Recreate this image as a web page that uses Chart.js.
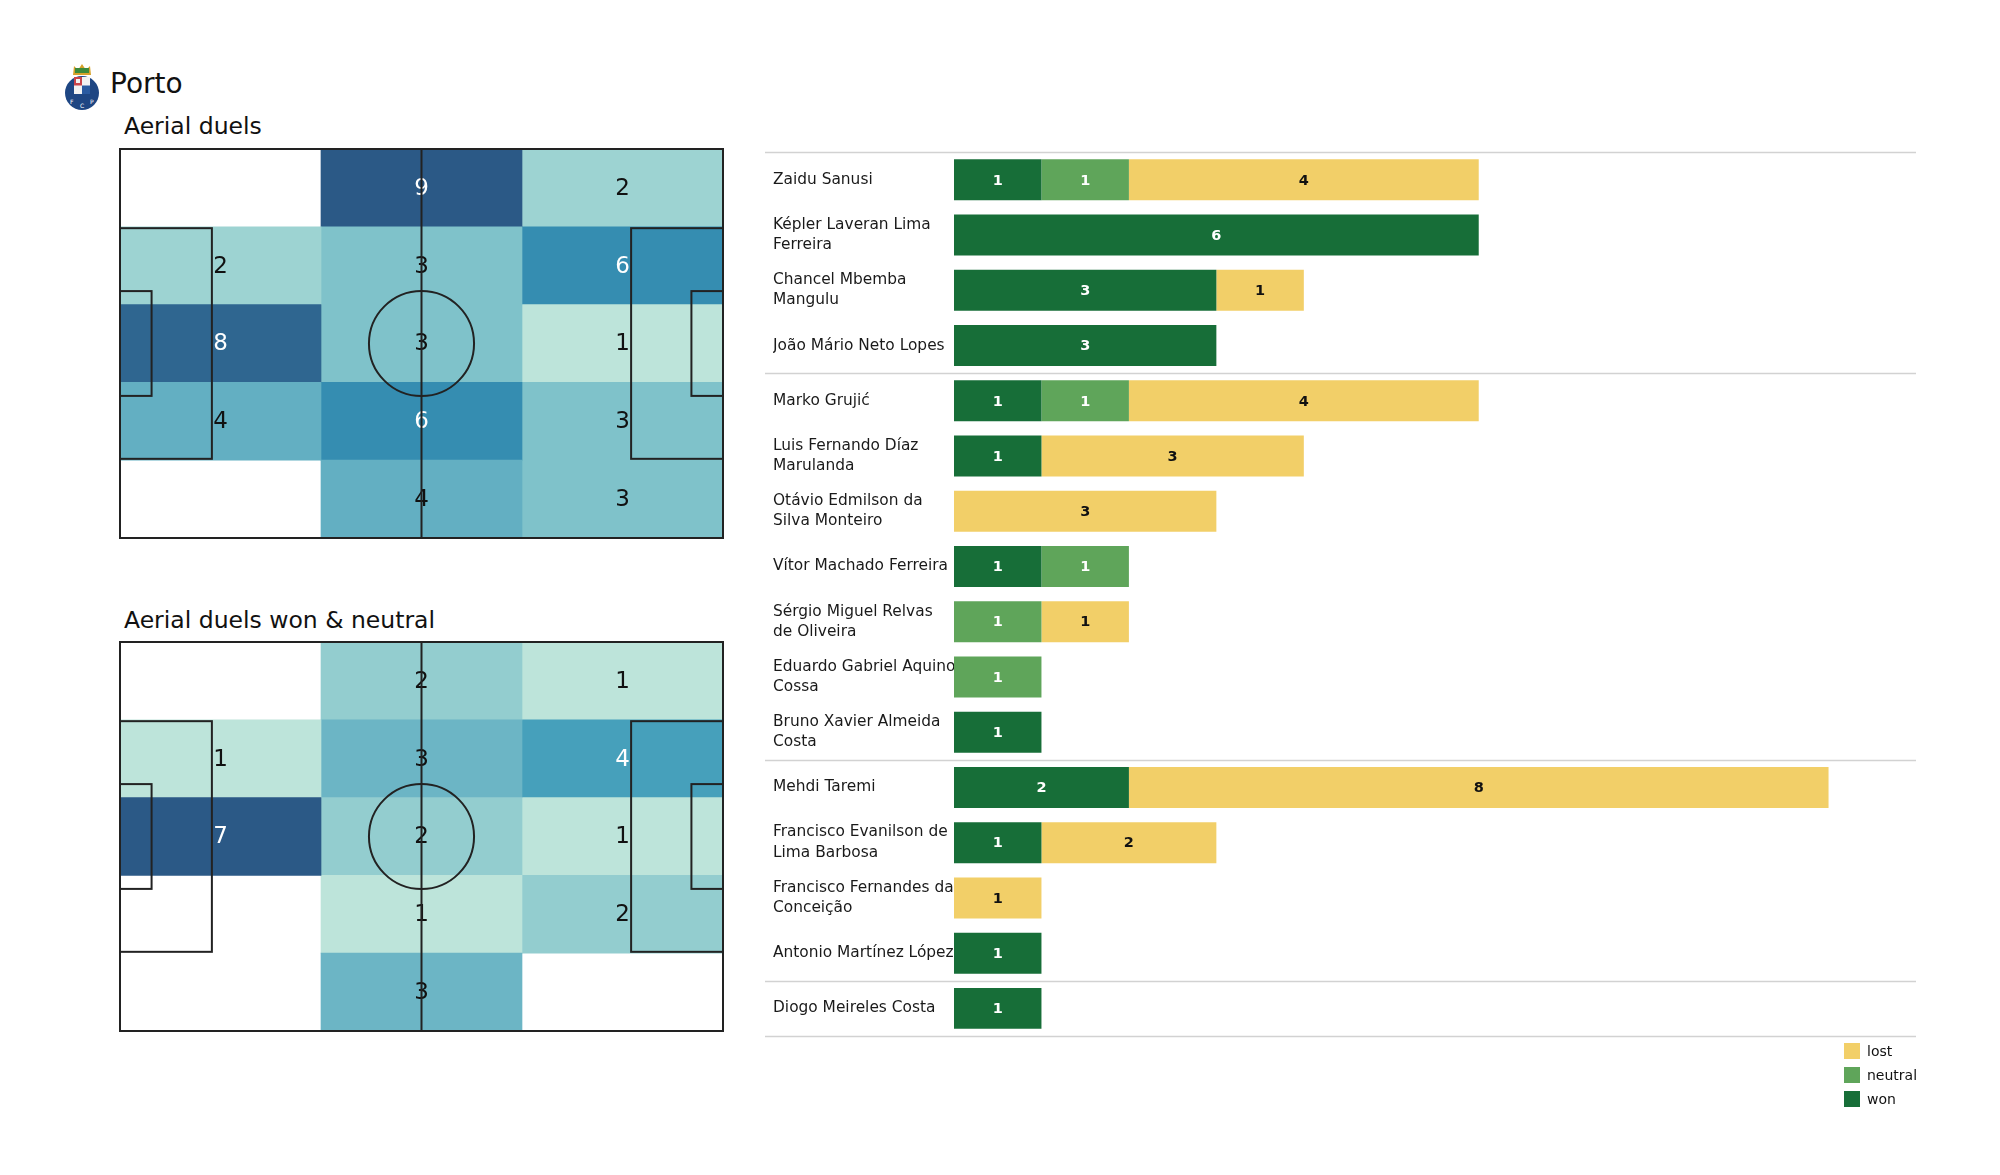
<!DOCTYPE html>
<html>
<head>
<meta charset="utf-8">
<script src="https://cdn.jsdelivr.net/npm/chart.js@4.4.1/dist/chart.umd.min.js"></script>
<style>
  body { margin:0; background:#fff; font-family:'DejaVu Sans', sans-serif; color:#111; }
  #page { position:relative; width:2000px; height:1175px; overflow:hidden; }
  .txt { position:absolute; white-space:nowrap; line-height:1; }
  canvas { position:absolute; }
  .lg { position:absolute; left:1844px; font-size:14px; display:flex; align-items:center; }
  .lg span.sw { width:16px; height:16px; display:inline-block; margin-right:7px; }
</style>
</head>
<body>
<div id="page">
  <svg style="position:absolute;left:62px;top:62px" width="40" height="48" viewBox="0 0 40 48">
    <path d="M11 13 L12 4 L16 8 L20 2 L24 8 L28 4 L29 13 Z" fill="#d6a22a"/>
    <rect x="13" y="6" width="14" height="5" fill="#3d8a3a"/>
    <circle cx="20" cy="31" r="17" fill="#1e4683"/>
    <rect x="12" y="15" width="16" height="17" fill="#f2f2f2"/>
    <rect x="12" y="15" width="8" height="8.5" fill="#c9444a"/>
    <rect x="20" y="23.5" width="8" height="8.5" fill="#2a5aa0"/>
    <rect x="14" y="17" width="4" height="4" fill="#f2f2f2"/>
    <text x="8" y="42" font-size="6" fill="#fff" font-family="DejaVu Sans">F</text>
    <text x="18" y="46" font-size="6" fill="#fff" font-family="DejaVu Sans">C</text>
    <text x="28" y="42" font-size="6" fill="#fff" font-family="DejaVu Sans">P</text>
  </svg>
  <div class="txt" style="left:110px;top:70px;font-size:28px">Porto</div>
  <div class="txt" style="left:124px;top:115px;font-size:23.5px">Aerial duels</div>
  <div class="txt" style="left:124px;top:609px;font-size:23.5px">Aerial duels won &amp; neutral</div>
  <canvas id="heatAll" width="611" height="397" style="left:116px;top:145px"></canvas>
  <canvas id="heatWon" width="611" height="397" style="left:116px;top:638px"></canvas>
  <canvas id="bars" width="1163" height="910" style="left:757px;top:142px"></canvas>
</div>
<script>
// pitch zones: 5 rows (top to bottom) x 3 columns (left to right)
const zoneRows = ['r1', 'r2', 'r3', 'r4', 'r5'];
const aerialDuels = [
  [0, 9, 2],
  [2, 3, 6],
  [8, 3, 1],
  [4, 6, 3],
  [0, 4, 3]
];
const aerialWonNeutral = [
  [0, 2, 1],
  [1, 3, 4],
  [7, 2, 1],
  [0, 1, 2],
  [0, 3, 0]
];

// players, by group (defenders, midfielders, forwards, keeper)
const players = [
  'Zaidu Sanusi',
  ['Képler Laveran Lima', 'Ferreira'],
  ['Chancel Mbemba', 'Mangulu'],
  'João Mário Neto Lopes',
  'Marko Grujić',
  ['Luis Fernando Díaz', 'Marulanda'],
  ['Otávio Edmilson da', 'Silva Monteiro'],
  'Vítor Machado Ferreira',
  ['Sérgio Miguel Relvas', 'de Oliveira'],
  ['Eduardo Gabriel Aquino', 'Cossa'],
  ['Bruno Xavier Almeida', 'Costa'],
  'Mehdi Taremi',
  ['Francisco Evanilson de', 'Lima Barbosa'],
  ['Francisco Fernandes da', 'Conceição'],
  'Antonio Martínez López',
  'Diogo Meireles Costa'
];
const groupSizes = [4, 7, 4, 1];
const won     = [1, 6, 3, 3, 1, 1, 0, 1, 0, 0, 1, 2, 1, 0, 1, 1];
const neutral = [1, 0, 0, 0, 1, 0, 0, 1, 1, 1, 0, 0, 0, 0, 0, 0];
const lost    = [4, 0, 1, 0, 4, 3, 3, 0, 1, 0, 0, 8, 2, 1, 0, 0];
const seriesNames = ['won', 'neutral', 'lost'];
const seriesColors = ['#176e38', '#5fa55a', '#f2cf68'];

const FONT = "'DejaVu Sans', sans-serif";
const PITCH_L = 105, PITCH_W = 68;
const colEdges = [0, 35, 70, 105];

// colour ramp (light mint -> dark blue)
const ramp = [
  [0, [189, 228, 218]], [0.125, [157, 211, 210]], [0.25, [127, 194, 202]],
  [0.375, [99, 175, 194]], [0.5, [70, 160, 187]], [0.625, [53, 141, 177]],
  [0.875, [47, 102, 144]], [1, [43, 89, 134]]
];
function rampT(v, maxV) { return maxV > 1 ? (v - 1) / (maxV - 1) : 1; }
function heatColor(v, maxV) {
  if (!v) return 'rgba(255,255,255,0)';
  const t = rampT(v, maxV);
  for (let i = 1; i < ramp.length; i++) {
    if (t <= ramp[i][0]) {
      const a = ramp[i-1], b = ramp[i];
      const f = (t - a[0]) / (b[0] - a[0]);
      const c = a[1].map((k, j) => Math.round(k + (b[1][j] - k) * f));
      return `rgb(${c[0]},${c[1]},${c[2]})`;
    }
  }
  return 'rgb(43,89,134)';
}

const cellLabels = {
  id: 'cellLabels',
  afterDatasetsDraw(chart) {
    const ctx = chart.ctx;
    const maxV = chart.options.plugins.cellLabels.maxV;
    ctx.save();
    ctx.font = `23px ${FONT}`;
    ctx.textAlign = 'center';
    ctx.textBaseline = 'middle';
    chart.data.datasets.forEach((ds, i) => {
      chart.getDatasetMeta(i).data.forEach((el, j) => {
        const v = ds.data[j].v;
        if (!v) return;
        const p = el.getCenterPoint();
        ctx.fillStyle = rampT(v, maxV) >= 0.5 ? '#ffffff' : '#111111';
        ctx.fillText(String(v), p.x, p.y + 1);
      });
    });
    ctx.restore();
  }
};

const pitchLines = {
  id: 'pitchLines',
  afterDraw(chart) {
    const ctx = chart.ctx, xs = chart.scales.x, ys = chart.scales.py;
    const px = v => xs.getPixelForValue(v), py = v => ys.getPixelForValue(v);
    const rect = (x0, y0, x1, y1) => ctx.strokeRect(px(x0), py(y1), px(x1) - px(x0), py(y0) - py(y1));
    ctx.save();
    ctx.strokeStyle = '#222';
    ctx.lineWidth = 2;
    rect(0, 0, PITCH_L, PITCH_W);
    ctx.beginPath();
    ctx.moveTo(px(PITCH_L / 2), py(0));
    ctx.lineTo(px(PITCH_L / 2), py(PITCH_W));
    ctx.stroke();
    ctx.beginPath();
    ctx.arc(px(PITCH_L / 2), py(PITCH_W / 2), px(9.15) - px(0), 0, Math.PI * 2);
    ctx.stroke();
    const pbY = (PITCH_W - 40.32) / 2, gaY = (PITCH_W - 18.32) / 2;
    rect(0, pbY, 16, PITCH_W - pbY);
    rect(PITCH_L - 16, pbY, PITCH_L, PITCH_W - pbY);
    rect(0, gaY, 5.5, PITCH_W - gaY);
    rect(PITCH_L - 5.5, gaY, PITCH_L, PITCH_W - gaY);
    ctx.restore();
  }
};

function makeHeatmap(id, counts) {
  const maxV = Math.max(...counts.flat());
  const datasets = [0, 1, 2].map(c => ({
    data: counts.map((row, r) => ({ y: zoneRows[r], x: [colEdges[c], colEdges[c + 1]], v: row[c] })),
    backgroundColor: counts.map(row => heatColor(row[c], maxV)),
    borderWidth: 0,
    grouped: false,
    categoryPercentage: 1,
    barPercentage: 1,
    xAxisID: 'x',
    yAxisID: 'y'
  }));
  new Chart(document.getElementById(id), {
    type: 'bar',
    data: { labels: zoneRows, datasets },
    options: {
      indexAxis: 'y',
      responsive: false,
      animation: false,
      layout: { padding: 4 },
      plugins: { legend: { display: false }, tooltip: { enabled: false }, cellLabels: { maxV } },
      scales: {
        x: { type: 'linear', min: 0, max: PITCH_L, offset: false, display: false },
        y: { type: 'category', display: false },
        py: { type: 'linear', axis: 'y', min: 0, max: PITCH_W, offset: false, display: false }
      }
    },
    plugins: [cellLabels, pitchLines]
  });
}

makeHeatmap('heatAll', aerialDuels);
makeHeatmap('heatWon', aerialWonNeutral);

// ── player bars ──
const barValues = {
  id: 'barValues',
  afterDatasetsDraw(chart) {
    const ctx = chart.ctx;
    ctx.save();
    ctx.font = `bold 14.5px ${FONT}`;
    ctx.textAlign = 'center';
    ctx.textBaseline = 'middle';
    chart.data.datasets.forEach((ds, i) => {
      chart.getDatasetMeta(i).data.forEach((el, j) => {
        const v = ds.data[j];
        if (!v) return;
        const p = el.getCenterPoint();
        ctx.fillStyle = ds.label === 'lost' ? '#111' : '#fff';
        ctx.fillText(String(v), p.x, p.y + 1);
      });
    });
    ctx.restore();
  }
};

const groupLines = {
  id: 'groupLines',
  beforeDatasetsDraw(chart) {
    const ctx = chart.ctx, ys = chart.scales.y, area = chart.chartArea;
    const step = ys.getPixelForValue(1) - ys.getPixelForValue(0);
    let idx = 0;
    const bounds = [0];
    groupSizes.forEach(n => { idx += n; bounds.push(idx); });
    ctx.save();
    ctx.strokeStyle = '#d2d2d2';
    ctx.lineWidth = 1.5;
    bounds.forEach(b => {
      const y = Math.round(ys.getPixelForValue(b) - step / 2) + 0.5;
      ctx.beginPath();
      ctx.moveTo(ys.left - 8, y);
      ctx.lineTo(area.right, y);
      ctx.stroke();
    });
    ctx.restore();
  }
};

const series = [won, neutral, lost];
new Chart(document.getElementById('bars'), {
  type: 'bar',
  data: {
    labels: players,
    datasets: series.map((d, i) => ({
      label: seriesNames[i],
      data: d,
      backgroundColor: seriesColors[i],
      borderWidth: 0,
      barPercentage: 0.742,
      categoryPercentage: 1
    }))
  },
  options: {
    indexAxis: 'y',
    responsive: false,
    animation: false,
    layout: { padding: { left: 16, top: 10, right: 4, bottom: 16 } },
    plugins: { legend: { display: false }, tooltip: { enabled: false } },
    scales: {
      x: { stacked: true, min: 0, max: 11, display: false },
      y: {
        stacked: true,
        grid: { display: false },
        border: { display: false },
        afterFit(scale) { scale.width = 181; },
        ticks: {
          autoSkip: false,
          crossAlign: 'far',
          padding: 0,
          color: '#1a1a1a',
          font: { family: FONT, size: 15.4, lineHeight: 1.32 }
        }
      }
    }
  },
  plugins: [groupLines, barValues]
});

// legend (lost, neutral, won from top)
seriesNames.slice().reverse().forEach((name, k) => {
  const i = seriesNames.length - 1 - k;
  const d = document.createElement('div');
  d.className = 'lg';
  d.style.top = (1043 + k * 24) + 'px';
  d.innerHTML = `<span class="sw" style="background:${seriesColors[i]}"></span>${name}`;
  document.getElementById('page').appendChild(d);
});
</script>
</body>
</html>
